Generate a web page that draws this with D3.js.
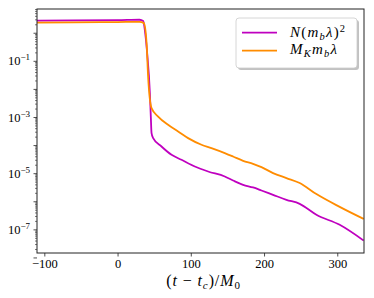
<!DOCTYPE html>
<html>
<head>
<meta charset="utf-8">
<script src="https://cdn.jsdelivr.net/npm/d3@7"></script>
<style>
  body { margin: 0; background: #fff; }
  svg { display: block; }
</style>
</head>
<body>
<svg id="chart" width="374" height="298"></svg>
<script>
// values
const tMag = [-110, -60, 0, 30, 35, 37.2, 40.4, 44.1, 45.4, 46.4, 48.6, 60.0, 73.7, 87.3, 105.5, 123.6, 146.4, 157.7, 171.4, 185.0, 196.5, 212.3, 230.6, 248.7, 271.5, 303.3, 336];
const vMag = [2.7, 2.75, 2.8, 2.9, 2.6, 1.27, 0.19, 7.3e-3, 1.05e-3, 2.67e-4, 1.77e-4, 8.9e-5, 4.5e-5, 3.0e-5, 1.73e-5, 1.15e-5, 7.6e-6, 5.5e-6, 3.86e-6, 3.1e-6, 2.42e-6, 1.7e-6, 1.13e-6, 8.1e-7, 3.3e-7, 1.45e-7, 4.0e-8];

const tOra = [-110, -60, 0, 30, 35.9, 39.6, 41.7, 46.4, 55.4, 69.0, 82.7, 96.3, 114.6, 128.2, 146.4, 157.7, 171.4, 185.0, 196.5, 212.3, 230.6, 248.7, 271.5, 303.3, 336];
const vOra = [2.3, 2.35, 2.4, 2.45, 2.2, 0.44, 0.0277, 2.07e-3, 1.04e-3, 5.27e-4, 3.05e-4, 1.77e-4, 1.03e-4, 7.8e-5, 5.2e-5, 3.93e-5, 2.76e-5, 2.16e-5, 1.65e-5, 1.01e-5, 6.7e-6, 4.45e-6, 1.8e-6, 6.3e-7, 2.35e-7];

const xTicks = [-100, 0, 100, 200, 300];
const yLabelExps = [-1, -3, -5, -7];
const yMajorExps = [0, -1, -2, -3, -4, -5, -6, -7, -8];

const svg = d3.select("#chart");
const mLeft = 37, mRight = 364, mTop = 9, mBottom = 253;

const x = d3.scaleLinear().domain([-110, 336.5]).range([mLeft, mRight]);
const y = d3.scaleLog().domain([1.44e-8, 7]).range([mBottom, mTop]);

const serif = "'Liberation Serif', 'DejaVu Serif', serif";

// clip for the curves
svg.append("clipPath").attr("id", "clip")
  .append("rect").attr("x", mLeft).attr("y", mTop).attr("width", mRight - mLeft).attr("height", mBottom - mTop);

// lines
const line = d3.line().x(d => x(d[0])).y(d => y(d[1])).curve(d3.curveMonotoneX);
const plot = svg.append("g").attr("clip-path", "url(#clip)");

plot.append("path")
  .datum(tMag.map((t, i) => [t, vMag[i]]))
  .attr("d", line)
  .attr("fill", "none")
  .attr("stroke", "#bf00bf")
  .attr("stroke-width", 1.8)
  .attr("stroke-linejoin", "round");

plot.append("path")
  .datum(tOra.map((t, i) => [t, vOra[i]]))
  .attr("d", line)
  .attr("fill", "none")
  .attr("stroke", "#ff8c00")
  .attr("stroke-width", 1.8)
  .attr("stroke-linejoin", "round");

// x axis
const gx = svg.append("g")
  .attr("transform", `translate(0, ${mBottom})`)
  .call(d3.axisBottom(x).tickValues(xTicks).tickSize(3.5).tickPadding(3)
    .tickFormat(d => d < 0 ? "\u2212" + Math.abs(d) : d));
gx.select(".domain").remove();
gx.selectAll("line").attr("stroke", "#222").attr("stroke-width", 0.8);
gx.selectAll("text").attr("font-family", serif).attr("font-size", 12.5).attr("fill", "#000");

// y minor ticks
const minors = [];
for (let e = -8; e <= 0; e++) {
  for (let k = 2; k <= 9; k++) {
    const v = k * Math.pow(10, e);
    if (v >= 1.44e-8 && v <= 7) minors.push(v);
  }
}
const gyMinor = svg.append("g")
  .attr("transform", `translate(${mLeft}, 0)`)
  .call(d3.axisLeft(y).tickValues(minors).tickSize(2).tickFormat(""));
gyMinor.select(".domain").remove();
gyMinor.selectAll("line").attr("stroke", "#222").attr("stroke-width", 0.6);

// y major ticks
const gy = svg.append("g")
  .attr("transform", `translate(${mLeft}, 0)`)
  .call(d3.axisLeft(y).tickValues(yMajorExps.map(e => Math.pow(10, e))).tickSize(3.5).tickPadding(3)
    .tickFormat(""));
gy.select(".domain").remove();
gy.selectAll("line").attr("stroke", "#222").attr("stroke-width", 0.8);

// y tick labels 10^n
yLabelExps.forEach(e => {
  const t = svg.append("text")
    .attr("x", 30)
    .attr("y", y(Math.pow(10, e)) + 4.5)
    .attr("text-anchor", "end")
    .attr("font-family", serif)
    .attr("font-size", 12.5);
  t.append("tspan").text("10");
  t.append("tspan").attr("dy", -5).attr("font-size", 9).text("\u2212" + Math.abs(e));
});

// frame
svg.append("rect")
  .attr("x", mLeft).attr("y", mTop)
  .attr("width", mRight - mLeft).attr("height", mBottom - mTop)
  .attr("fill", "none").attr("stroke", "#222").attr("stroke-width", 1);

// x label
const xl = svg.append("text")
  .attr("x", (mLeft + mRight) / 2 + 3)
  .attr("y", 286)
  .attr("text-anchor", "middle")
  .attr("font-family", serif)
  .attr("font-size", 16)
  .attr("letter-spacing", 0.9);
xl.append("tspan").text("(");
xl.append("tspan").attr("font-style", "italic").text("t");
xl.append("tspan").text(" \u2212 ");
xl.append("tspan").attr("font-style", "italic").text("t");
xl.append("tspan").attr("font-style", "italic").attr("font-size", 11).attr("dy", 3).text("c");
xl.append("tspan").attr("dy", -3).text(")/");
xl.append("tspan").attr("font-style", "italic").text("M");
xl.append("tspan").attr("font-size", 11).attr("dy", 3).text("0");

// legend
const lg = svg.append("g");
lg.append("rect")
  .attr("x", 238).attr("y", 20).attr("width", 121).attr("height", 50).attr("rx", 3)
  .attr("fill", "#999").attr("opacity", 0.6);
lg.append("rect")
  .attr("x", 236).attr("y", 18).attr("width", 121).attr("height", 50).attr("rx", 3)
  .attr("fill", "#fff").attr("stroke", "#ccc").attr("stroke-width", 0.8);

const legendItems = [
  { color: "#bf00bf", yy: 32.7 },
  { color: "#ff8c00", yy: 50.7 }
];
legendItems.forEach(d => {
  lg.append("line")
    .attr("x1", 242).attr("x2", 277).attr("y1", d.yy).attr("y2", d.yy)
    .attr("stroke", d.color).attr("stroke-width", 1.8);
});

const l1 = lg.append("text").attr("x", 290).attr("y", 37).attr("font-family", serif)
  .attr("font-size", 15).attr("letter-spacing", 1.2);
l1.append("tspan").attr("font-style", "italic").text("N");
l1.append("tspan").text("(");
l1.append("tspan").attr("font-style", "italic").text("m");
l1.append("tspan").attr("font-style", "italic").attr("font-size", 10.5).attr("dy", 2.5).text("b");
l1.append("tspan").attr("font-style", "italic").attr("dy", -2.5).text("λ");
l1.append("tspan").text(")");
l1.append("tspan").attr("font-size", 10.5).attr("dy", -5.5).text("2");

const l2 = lg.append("text").attr("x", 290).attr("y", 54).attr("font-family", serif)
  .attr("font-size", 15).attr("letter-spacing", 1.2);
l2.append("tspan").attr("font-style", "italic").text("M");
l2.append("tspan").attr("font-style", "italic").attr("font-size", 10.5).attr("dy", 2.5).text("K");
l2.append("tspan").attr("font-style", "italic").attr("dy", -2.5).text("m");
l2.append("tspan").attr("font-style", "italic").attr("font-size", 10.5).attr("dy", 2.5).text("b");
l2.append("tspan").attr("font-style", "italic").attr("dy", -2.5).text("λ");
</script>
</body>
</html>
